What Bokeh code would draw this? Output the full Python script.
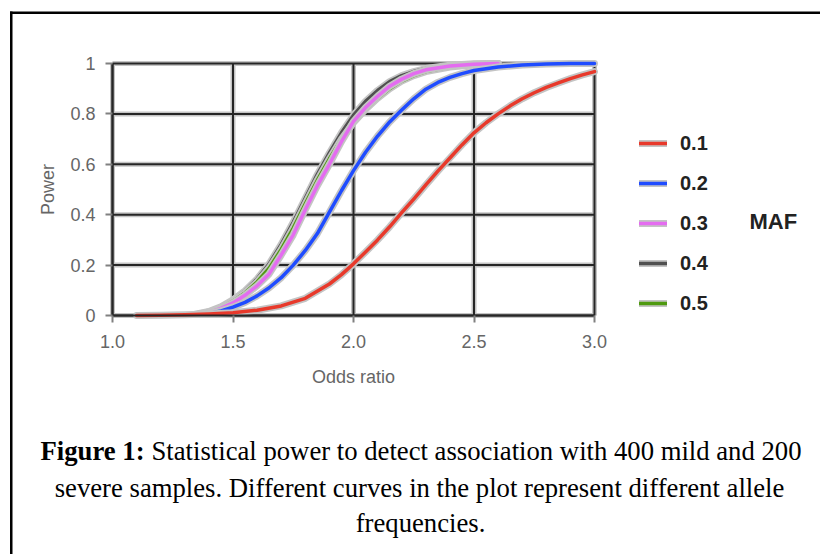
from bokeh.plotting import figure
from bokeh.models import Range1d, FixedTicker, Legend, LegendItem, Label, BoxAnnotation
from bokeh.embed import file_html
from bokeh.resources import INLINE

# ---------------- data ----------------
maf_labels = ["0.1", "0.2", "0.3", "0.4", "0.5"]

x_tick_values = [1.0, 1.5, 2.0, 2.5, 3.0]
x_tick_labels = ["1.0", "1.5", "2.0", "2.5", "3.0"]
y_tick_values = [0.0, 0.2, 0.4, 0.6, 0.8, 1.0]
y_tick_labels = ["0", "0.2", "0.4", "0.6", "0.8", "1"]

maf01_x = [1.10, 1.20, 1.30, 1.40, 1.50, 1.60, 1.70, 1.80, 1.90, 1.95, 2.00, 2.05, 2.10, 2.15,
           2.20, 2.25, 2.30, 2.35, 2.40, 2.45, 2.50, 2.55, 2.60, 2.65, 2.70, 2.75, 2.80, 2.85,
           2.90, 2.95, 3.00]
maf01_y = [0.000, 0.001, 0.003, 0.006, 0.011, 0.021, 0.038, 0.068, 0.125, 0.162, 0.205, 0.252,
           0.300, 0.352, 0.408, 0.462, 0.518, 0.573, 0.625, 0.677, 0.725, 0.765, 0.800, 0.832,
           0.860, 0.884, 0.905, 0.923, 0.940, 0.955, 0.968]

maf02_x = [1.38, 1.45, 1.50, 1.55, 1.60, 1.65, 1.70, 1.75, 1.80, 1.85, 1.90, 1.95, 2.00, 2.05,
           2.10, 2.15, 2.20, 2.25, 2.30, 2.35, 2.40, 2.45, 2.50, 2.60, 2.70, 2.80, 2.90, 3.00]
maf02_y = [0.004, 0.018, 0.033, 0.052, 0.078, 0.110, 0.150, 0.200, 0.258, 0.325, 0.410, 0.495,
           0.575, 0.648, 0.712, 0.768, 0.815, 0.860, 0.898, 0.925, 0.945, 0.960, 0.972, 0.986,
           0.994, 0.998, 1.000, 1.000]

maf03_x = [1.36, 1.40, 1.45, 1.50, 1.55, 1.60, 1.65, 1.70, 1.75, 1.80, 1.85, 1.90, 1.95, 2.00,
           2.05, 2.10, 2.15, 2.20, 2.25, 2.30, 2.40, 2.50, 2.60]
maf03_y = [0.004, 0.012, 0.028, 0.050, 0.080, 0.118, 0.165, 0.240, 0.320, 0.420, 0.515, 0.600,
           0.690, 0.770, 0.825, 0.870, 0.910, 0.938, 0.960, 0.975, 0.990, 0.997, 1.000]

maf04_x = [1.34, 1.40, 1.45, 1.50, 1.55, 1.60, 1.65, 1.70, 1.75, 1.80, 1.85, 1.90, 1.95, 2.00,
           2.05, 2.10, 2.15, 2.20, 2.25, 2.30, 2.40, 2.50, 2.60]
maf04_y = [0.004, 0.016, 0.035, 0.062, 0.098, 0.145, 0.205, 0.282, 0.370, 0.465, 0.560, 0.645,
           0.725, 0.795, 0.850, 0.893, 0.928, 0.952, 0.968, 0.980, 0.993, 0.999, 1.000]

maf05_x = [1.35, 1.40, 1.45, 1.50, 1.55, 1.60, 1.65, 1.70, 1.75, 1.80, 1.85, 1.90, 1.95, 2.00,
           2.05, 2.10, 2.15, 2.20, 2.25, 2.30, 2.40, 2.50, 2.60]
maf05_y = [0.004, 0.014, 0.032, 0.057, 0.090, 0.133, 0.188, 0.262, 0.347, 0.443, 0.537, 0.622,
           0.700, 0.765, 0.818, 0.862, 0.900, 0.930, 0.952, 0.968, 0.986, 0.995, 1.000]

legend_title = "MAF"
caption_bold = "Figure 1:"
caption_line1 = "Statistical power to detect association with 400 mild and 200"
caption_line2 = "severe samples. Different curves in the plot represent different allele"
caption_line3 = "frequencies."

# ---------------- layout / styles ----------------
W, H = 820, 554
PX_X0, PX_PER_X = 112, 241.0     # pixel of odds ratio 1.0, pixels per unit
PX_Y0, PX_PER_Y = 315, 252.0     # pixel of power 0, pixels per unit
x_start = 1.0 - PX_X0 / PX_PER_X
x_end = 1.0 + (W - PX_X0) / PX_PER_X
y_start = -(H - PX_Y0) / PX_PER_Y
y_end = PX_Y0 / PX_PER_Y

colors = {"0.1": "#e8392b", "0.2": "#1f4cff", "0.3": "#e46cf0", "0.4": "#505050", "0.5": "#4f9a10"}
halo = "#c4c4c4"
axis_text = "#666666"
SANS = "Liberation Sans"
SERIF = "Liberation Serif"

p = figure(width=W, height=H, output_backend="svg", toolbar_location=None,
           x_range=Range1d(x_start, x_end), y_range=Range1d(y_start, y_end),
           min_border=0, min_border_left=0, min_border_right=0,
           min_border_top=0, min_border_bottom=0)
p.background_fill_color = "white"
p.border_fill_color = "white"
p.outline_line_color = None
p.xgrid.visible = False
p.ygrid.visible = False

# plot-area grid (halo + dark line), from the tick values
x_lo, x_hi = x_tick_values[0], x_tick_values[-1]
y_lo, y_hi = y_tick_values[0], y_tick_values[-1]
for col, wid in ((halo, 5), ("#262626", 2)):
    p.segment(x0=x_tick_values, x1=x_tick_values, y0=[y_lo] * len(x_tick_values),
              y1=[y_hi] * len(x_tick_values), line_color=col, line_width=wid)
    p.segment(x0=[x_lo] * len(y_tick_values), x1=[x_hi] * len(y_tick_values),
              y0=y_tick_values, y1=y_tick_values, line_color=col, line_width=wid)

# axes
p.xaxis.fixed_location = y_lo
p.yaxis.fixed_location = x_lo
p.xaxis.bounds = (x_lo, x_hi)
p.yaxis.bounds = (y_lo, y_hi)
for ax, vals, labs in ((p.xaxis[0], x_tick_values, x_tick_labels), (p.yaxis[0], y_tick_values, y_tick_labels)):
    ax.ticker = FixedTicker(ticks=vals)
    ax.major_label_overrides = {v: l for v, l in zip(vals, labs)}
    ax.major_tick_out = 7
    ax.major_tick_in = 0
    ax.minor_tick_out = 0
    ax.minor_tick_in = 0
    ax.major_tick_line_color = "#808080"
    ax.major_tick_line_width = 2
    ax.axis_line_color = "#262626"
    ax.axis_line_width = 2
    ax.major_label_text_font = SANS
    ax.major_label_text_font_size = "18px"
    ax.major_label_text_color = axis_text
    ax.axis_label_text_font = SANS
    ax.axis_label_text_font_size = "18px"
    ax.axis_label_text_font_style = "normal"
    ax.axis_label_text_color = axis_text

p.xaxis.axis_label = "Odds ratio"
p.yaxis.axis_label = "Power"
p.xaxis.major_label_standoff = 12
p.xaxis.axis_label_standoff = 16
p.yaxis.major_label_standoff = 10
p.yaxis.axis_label_standoff = 9

series = {"0.1": (maf01_x, maf01_y), "0.2": (maf02_x, maf02_y), "0.3": (maf03_x, maf03_y),
          "0.4": (maf04_x, maf04_y), "0.5": (maf05_x, maf05_y)}
draw_order = ["0.4", "0.5", "0.3", "0.2", "0.1"]
rends = {}
for key in draw_order:
    xs, ys = series[key]
    h = p.line(xs, ys, line_color=halo, line_width=7, line_cap="round", line_join="round")
    r = p.line(xs, ys, line_color=colors[key], line_width=3.5, line_cap="round", line_join="round")
    rends[key] = [h, r]

legend = Legend(items=[LegendItem(label=k, renderers=rends[k]) for k in maf_labels],
                location=(639, H - 315), orientation="vertical",
                glyph_width=28, glyph_height=24, label_height=24, spacing=16,
                label_standoff=13, padding=0, margin=0,
                border_line_color=None, background_fill_alpha=0,
                label_text_font=SANS, label_text_font_size="20px",
                label_text_font_style="bold", label_text_color="#222222")
p.add_layout(legend, "center")

p.add_layout(Label(x=749, y=221, x_units="canvas", y_units="canvas", text=legend_title,
                   text_font=SANS, text_font_size="22px", text_font_style="bold",
                   text_color="#222222", text_baseline="middle", text_align="left"))

# outer box: only its left and top edges are inside the picture
p.add_layout(BoxAnnotation(left=9.5, right=12, top=11, bottom=H,
                           left_units="canvas", right_units="canvas",
                           top_units="canvas", bottom_units="canvas",
                           fill_color="black", fill_alpha=1, line_color=None))
p.add_layout(BoxAnnotation(left=9.5, right=W, top=11, bottom=13.5,
                           left_units="canvas", right_units="canvas",
                           top_units="canvas", bottom_units="canvas",
                           fill_color="black", fill_alpha=1, line_color=None))

# caption
cap = dict(x_units="canvas", y_units="canvas", text_font=SERIF, text_font_size="26.7px",
           text_color="black", text_baseline="middle")
p.add_layout(Label(x=40, y=450, text=caption_bold, text_font_style="bold", text_align="left", **cap))
p.add_layout(Label(x=151, y=450, text=caption_line1, text_align="left", **cap))
p.add_layout(Label(x=419, y=487, text=caption_line2, text_align="center", **cap))
p.add_layout(Label(x=420, y=522, text=caption_line3, text_align="center", **cap))

open("out.html", "w").write(file_html(p, INLINE))
